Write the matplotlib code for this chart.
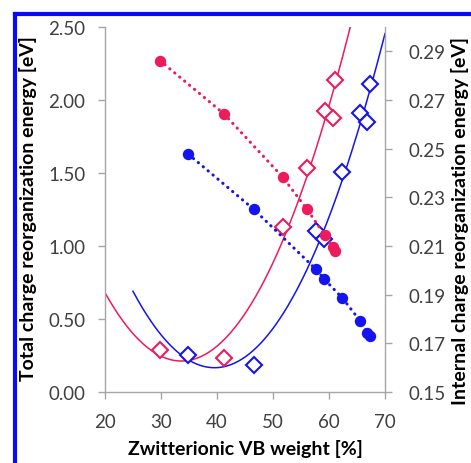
import matplotlib.pyplot as plt
import numpy as np
from matplotlib.lines import Line2D

plt.rcParams['font.family'] = ['Lato', 'DejaVu Sans']

# Zwitterionic VB weight [%]
pink_x = [29.8, 41.2, 51.7, 56.1, 59.2, 60.7, 61.0]
blue_x = [34.9, 46.6, 57.6, 59.1, 62.4, 65.6, 66.8, 67.4]

# total charge reorganization energy (diamonds, left axis)
pink_total = [0.29, 0.23, 1.128, 1.534, 1.927, 1.877, 2.137]
blue_total = [0.253, 0.185, 1.103, 1.048, 1.505, 1.911, 1.847, 2.11]

# internal charge reorganization energy (circles, right axis)
pink_internal = [0.2862, 0.2644, 0.2384, 0.225, 0.2146, 0.2097, 0.2078]
blue_internal = [0.2477, 0.225, 0.2006, 0.1965, 0.1886, 0.1791, 0.1743, 0.1729]

pink = '#EC1C5C'
blue = '#1414EE'
grey = '#A6A6A6'
tick_col = '#404040'

fig = plt.figure(figsize=(4.71, 4.64), dpi=100)
ax = fig.add_axes([0.2229, 0.153, 0.5945, 0.7867])
ax2 = ax.twinx()

# quadratic trendlines on the total energies
for xs, ys, col, x0 in [(pink_x, pink_total, pink, 20), (blue_x, blue_total, blue, 25)]:
    c = np.polyfit(xs, ys, 2)
    xf = np.linspace(x0, 70, 200)
    ax.plot(xf, np.polyval(c, xf), color=col, lw=1.1, zorder=2)

ax.plot(pink_x, pink_total, 'D', ms=8.5, mfc='white', mec=pink, mew=1.5, zorder=3)
ax.plot(blue_x, blue_total, 'D', ms=8.5, mfc='white', mec=blue, mew=1.5, zorder=3)

ax2.plot(pink_x, pink_internal, color=pink, lw=2.2, ls=(0, (0.1, 2)),
         dash_capstyle='round', marker='o', ms=7.2, mec=pink, mfc=pink)
ax2.plot(blue_x, blue_internal, color=blue, lw=2.2, ls=(0, (0.1, 2)),
         dash_capstyle='round', marker='o', ms=7.2, mec=blue, mfc=blue)

ax.set_xlim(20, 70)
ax.set_ylim(0, 2.5)
ax2.set_ylim(0.15, 0.30)
ax.set_xticks(range(20, 71, 10))
ax.set_yticks(np.arange(0, 2.51, 0.5))
ax.set_yticklabels(['%.2f' % v for v in np.arange(0, 2.51, 0.5)])
ax2.set_yticks(np.arange(0.15, 0.291, 0.02))
ax2.set_yticklabels(['%.2f' % v for v in np.arange(0.15, 0.291, 0.02)])

for a in (ax, ax2):
    for s in a.spines.values():
        s.set_color(grey)
        s.set_linewidth(1.0)
    a.spines['top'].set_visible(False)
ax.spines['right'].set_visible(False)
ax2.spines['left'].set_visible(False)
ax2.spines['bottom'].set_visible(False)

ax.tick_params(axis='x', length=5, width=1, color=grey, labelsize=13.5, labelcolor=tick_col, pad=10)
ax.tick_params(axis='y', length=5, width=1, color=grey, labelsize=13.5, labelcolor=tick_col, pad=9)
ax2.tick_params(axis='y', length=5, width=1, color=grey, labelsize=13.5, labelcolor=tick_col, pad=12)

ax.set_xlabel('Zwitterionic VB weight [%]', fontsize=14, fontweight='bold')
ax.set_ylabel('Total charge reorganization energy [eV]', fontsize=14, fontweight='bold')
ax2.set_ylabel('Internal charge reorganization energy [eV]', fontsize=14, fontweight='bold',
               rotation=90)
ax.xaxis.set_label_coords(0.5, -0.128)
ax.yaxis.set_label_coords(-0.243, 0.505)
ax2.yaxis.set_label_coords(1.236, 0.471)

# blue frame around the figure
fx = 15 / 471
fy = 1 - 15 / 464
fig.add_artist(Line2D([fx, fx], [0, fy], color='#0A0AF5', lw=3))
fig.add_artist(Line2D([fx, 1], [fy, fy], color='#0A0AF5', lw=3))

fig.savefig('out.png', dpi=100)
